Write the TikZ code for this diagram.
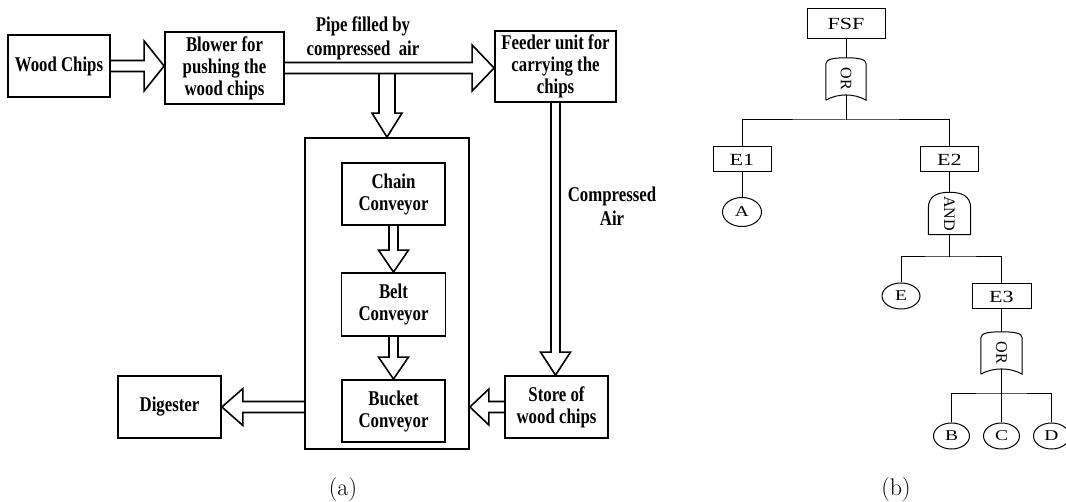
\documentclass[tikz,border=0pt]{standalone}
\usepackage{fontspec}
\newfontfamily\tfont[FakeStretch=0.8]{Liberation Serif}
\newfontfamily\ffont[FakeStretch=1.3]{Liberation Serif}
\newfontfamily\gfont{Liberation Serif}
\usetikzlibrary{calc,shapes.geometric}

% block arrows (w = half shaft, h = half head, l = head length, all in pt)
\newcommand\rarr[5]{\draw[blk] let \p1=(#1), \p2=(#2) in
  (\x1,\y1+#3pt) -- (\x2-#5pt,\y1+#3pt) -- (\x2-#5pt,\y1+#4pt) -- (\x2,\y1)
  -- (\x2-#5pt,\y1-#4pt) -- (\x2-#5pt,\y1-#3pt) -- (\x1,\y1-#3pt);}
\newcommand\larr[5]{\draw[blk] let \p1=(#1), \p2=(#2) in
  (\x1,\y1+#3pt) -- (\x2+#5pt,\y1+#3pt) -- (\x2+#5pt,\y1+#4pt) -- (\x2,\y1)
  -- (\x2+#5pt,\y1-#4pt) -- (\x2+#5pt,\y1-#3pt) -- (\x1,\y1-#3pt);}
\newcommand\darr[5]{\draw[blk] let \p1=(#1), \p2=(#2) in
  (\x1-#3pt,\y1) -- (\x1-#3pt,\y2+#5pt) -- (\x1-#4pt,\y2+#5pt) -- (\x1,\y2)
  -- (\x1+#4pt,\y2+#5pt) -- (\x1+#3pt,\y2+#5pt) -- (\x1+#3pt,\y1);}
% fault-tree gate outlines
\newcommand\orshape[1]{\draw[ft] (#1.south west) -- ($(#1.north west)+(0,6)$)
  .. controls ($(#1.north west)+(0,1)$) and ($(#1.north west)+(9,0)$) .. (#1.north)
  .. controls ($(#1.north east)+(-9,0)$) and ($(#1.north east)+(0,1)$) .. ($(#1.north east)+(0,6)$)
  -- (#1.south east)
  .. controls ($(#1.south east)+(-12,-7)$) and ($(#1.south west)+(12,-7)$) .. (#1.south west);}
\newcommand\andshape[1]{\draw[ft] (#1.south west) -- ($(#1.north west)+(0,16)$)
  .. controls ($(#1.north west)+(0,3)$) and ($(#1.north west)+(10,0)$) .. (#1.north)
  .. controls ($(#1.north east)+(-10,0)$) and ($(#1.north east)+(0,3)$) .. ($(#1.north east)+(0,16)$)
  -- (#1.south east) -- cycle;}

\begin{document}
\begin{tikzpicture}[x=1pt,y=-1pt,
  box/.style={draw, line width=1.8pt, inner sep=0pt, align=center,
    font=\tfont\bfseries\fontsize{21}{22}\selectfont},
  lbl/.style={inner sep=0pt, align=center,
    font=\tfont\bfseries\fontsize{21}{24}\selectfont},
  blk/.style={draw, line width=1.6pt, line join=miter},
  ft/.style={draw, line width=1pt},
  ftbox/.style={ft, inner sep=0pt, font=\ffont\fontsize{17}{17}\selectfont},
  ftcirc/.style={ft, ellipse, inner sep=0pt, font=\ffont\fontsize{15}{15}\selectfont},
  gate/.style={inner sep=0pt, font=\gfont\fontsize{16}{16}\selectfont},
  captext/.style={inner sep=0pt, anchor=base, font=\fontsize{24}{24}\selectfont}]
\useasboundingbox (0,0) rectangle (1066,502);
\clip (0,0) rectangle (1066,502);

% ---------------- (a) ----------------
\node[box, minimum width=102, minimum height=62] (wc) at (59,66) {Wood Chips};
\node[box, minimum width=119, minimum height=72] (bl) at (224.5,68) {Blower for\\pushing the\\wood chips};
\node[box, minimum width=121, minimum height=71] (fd) at (555.5,66.5) {Feeder unit for\\carrying the\\chips};
\node[box, minimum width=164, minimum height=311] (big) at (387,293.5) {};
\node[box, minimum width=103, minimum height=62] (ch) at (393.5,194) {Chain\\Conveyor};
\node[box, minimum width=104, minimum height=63] (be) at (393.5,304.5) {Belt\\Conveyor};
\node[box, minimum width=103, minimum height=62] (bu) at (393.5,411) {Bucket\\Conveyor};
\node[box, minimum width=103, minimum height=62] (dg) at (169.5,407) {Digester};
\node[box, minimum width=103, minimum height=62] (st) at (556.5,407) {Store of\\wood chips};

\node[lbl] (pipe) at (363,38) {Pipe filled by\\compressed\ \ air};
\node[lbl] (air) at (612,206) {Compressed\\Air};

\coordinate (pj) at (387,73.5);

\rarr{wc.east}{bl.west}{5.5}{25}{20}
\rarr{bl.east}{fd.west}{5.5}{23}{22}
\darr{pj}{big.north}{8}{15}{24}
\darr{ch.south}{be.north}{4.5}{15}{22}
\darr{be.south}{bu.north}{4.5}{15}{22}
\darr{fd.south}{st.north}{4.5}{15}{23}
\larr{big.west |- dg.east}{dg.east}{5.5}{18.5}{21}
\larr{st.west}{big.east |- st.west}{5.5}{18}{19}

\node[captext] (capa) at (343,496) {(a)};

% ---------------- (b) ----------------
\node[ftbox, minimum width=78, minimum height=30] (fsf) at (846,24) {FSF};
\node[gate, minimum width=40, minimum height=42] (or1) at (846,79) {\rotatebox{-90}{OR}};
\orshape{or1}
\node[ftbox, minimum width=58, minimum height=25] (e1) at (742,159.5) {E1};
\node[ftbox, minimum width=58, minimum height=25] (e2) at (949.5,159.5) {E2};
\node[ftcirc, minimum width=39, minimum height=29] (A) at (742,212) {A};
\node[gate, minimum width=42, minimum height=42] (and1) at (949.5,213.5) {\rotatebox{-90}{AND}};
\andshape{and1}
\node[ftcirc, minimum width=38, minimum height=26] (E) at (901,296) {E};
\node[ftbox, minimum width=59, minimum height=25] (e3) at (1001.5,296.5) {E3};
\node[gate, minimum width=41, minimum height=42] (or2) at (1001.5,353) {\rotatebox{-90}{OR}};
\orshape{or2}
\node[ftcirc, minimum width=36, minimum height=26] (B) at (951.5,436) {B};
\node[ftcirc, minimum width=36, minimum height=26] (C) at (1001.5,436) {C};
\node[ftcirc, minimum width=36, minimum height=26] (D) at (1051.5,436) {D};

\coordinate (or1b) at ($(or1.south)+(0,-5)$);
\coordinate (j1) at (846,120);
\coordinate (j2) at (949.5,257);
\coordinate (or2b) at ($(or2.south)+(0,-5)$);
\coordinate (j3) at (1001.5,394);

\draw[ft] (fsf.south) -- (or1.north);
\draw[ft] (or1b) -- (j1);
\draw[ft] (e1.north) |- (j1) -| (e2.north);
\draw[ft] (e1.south) -- (A.north);
\draw[ft] (e2.south) -- (and1.north);
\draw[ft] (and1.south) -- (j2);
\draw[ft] (E.north) |- (j2) -| (e3.north);
\draw[ft] (e3.south) -- (or2.north);
\draw[ft] (or2b) -- (j3);
\draw[ft] (B.north) |- (j3) -| (D.north);
\draw[ft] (j3) -- (C.north);

\node[captext] (capb) at (896,496) {(b)};
\end{tikzpicture}
\end{document}
